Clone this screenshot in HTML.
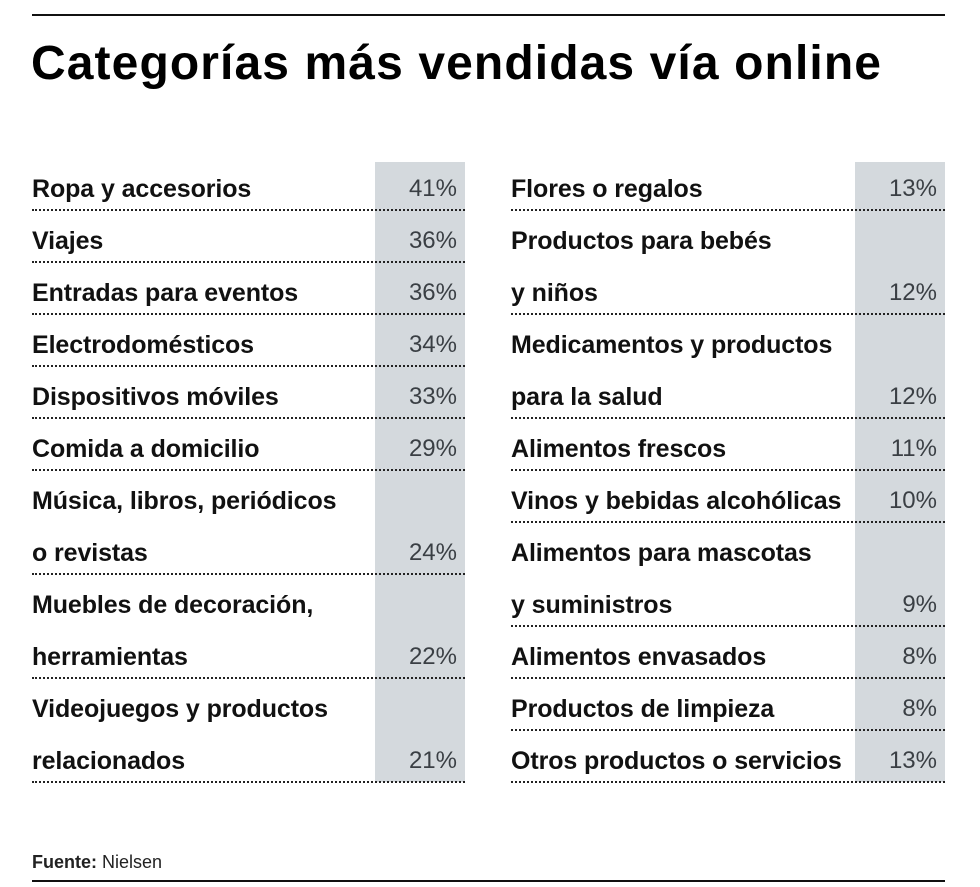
<!DOCTYPE html>
<html><head><meta charset="utf-8"><style>
body{margin:0;width:980px;height:887px;background:#fff;position:relative;overflow:hidden;font-family:"Liberation Sans",sans-serif}
.abs{position:absolute}
.lbl{font-weight:bold;font-size:25px;color:#111;white-space:nowrap;line-height:52px;letter-spacing:-0.1px}
.val{font-size:24px;color:#3a3f44;line-height:52px;text-align:right;width:80px}
.dot{height:0;border-top:2px dotted #222}
.band{background:#d4d9dd}
</style></head><body>
<div class="abs" style="left:32px;top:14px;width:913px;height:2px;background:#111"></div>
<div class="abs" style="left:31px;top:36px;font-size:48px;font-weight:bold;letter-spacing:1.1px;color:#000">Categorías más vendidas vía online</div>
<div id="tbl"></div>
<div class="abs" style="left:32px;top:852px;font-size:18px;color:#222"><b>Fuente:</b> Nielsen</div>
<div class="abs" style="left:32px;top:880px;width:913px;height:2px;background:#111"></div>
<script>
const leftLabels=[["Ropa y accesorios"],["Viajes"],["Entradas para eventos"],["Electrodomésticos"],["Dispositivos móviles"],["Comida a domicilio"],["Música, libros, periódicos","o revistas"],["Muebles de decoración,","herramientas"],["Videojuegos y productos","relacionados"]];
const leftValues=[41,36,36,34,33,29,24,22,21];
const rightLabels=[["Flores o regalos"],["Productos para bebés","y niños"],["Medicamentos y productos","para la salud"],["Alimentos frescos"],["Vinos y bebidas alcohólicas"],["Alimentos para mascotas","y suministros"],["Alimentos envasados"],["Productos de limpieza"],["Otros productos o servicios"]];
const rightValues=[13,12,12,11,10,9,8,8,13];
const tbl=document.getElementById('tbl');
function col(labels,values,x0,bandX,name){
  const band=document.createElement('div');
  band.className='abs band';
  
  
  band.style.cssText=`left:${bandX}px;top:162px;width:90px;height:620px`;
  tbl.appendChild(band);
  let y=158;
  labels.forEach((lines,i)=>{
    lines.forEach((t,j)=>{
      const d=document.createElement('div');d.className='abs lbl';
      
      
      d.style.left=x0+'px';d.style.top=(y+j*52+5)+'px';d.textContent=t;tbl.appendChild(d);
    });
    const v=document.createElement('div');v.className='abs val';
    
    
    v.style.left=(bandX+2)+'px';v.style.top=(y+(lines.length-1)*52+5)+'px';v.textContent=values[i]+'%';tbl.appendChild(v);
    y+=52*lines.length;
    const l=document.createElement('div');l.className='abs dot';
    
    
    l.style.cssText=`left:${x0}px;top:${y-1}px;width:${bandX+90-x0}px`;tbl.appendChild(l);
  });
}
col(leftLabels,leftValues,32,375,'left');
col(rightLabels,rightValues,511,855,'right');
</script>
</body></html>
